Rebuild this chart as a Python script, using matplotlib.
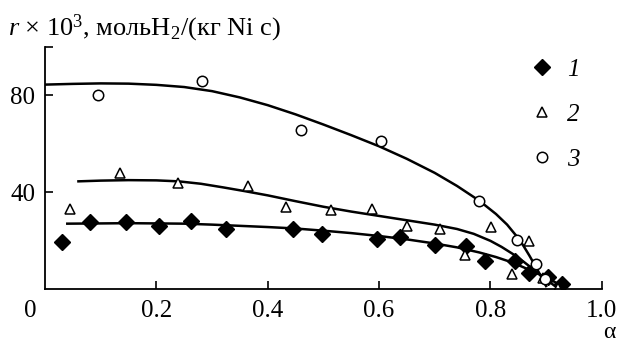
import matplotlib.pyplot as plt

plt.rcParams['font.family'] = ['Liberation Serif', 'DejaVu Serif']
plt.rcParams['mathtext.fontset'] = 'custom'
plt.rcParams['mathtext.rm'] = 'Liberation Serif'
plt.rcParams['mathtext.it'] = 'Liberation Serif:italic'

# measured points
x1 = [0.03, 0.08, 0.145, 0.205, 0.262, 0.325, 0.445, 0.498, 0.596, 0.638,
      0.70, 0.757, 0.791, 0.845, 0.87, 0.904, 0.929]
y1 = [19.4, 27.6, 27.6, 26.0, 28.0, 24.7, 24.7, 22.7, 20.6, 21.4,
      18.0, 17.7, 11.5, 11.5, 6.6, 5.0, 2.0]
x2 = [0.045, 0.134, 0.238, 0.364, 0.432, 0.513, 0.587, 0.651, 0.709, 0.754,
      0.801, 0.839, 0.87, 0.895, 0.921]
y2 = [33.0, 48.0, 43.7, 42.5, 33.8, 32.6, 33.0, 26.0, 25.0, 14.0,
      25.6, 6.0, 20.0, 4.6, 0.5]
x3 = [0.095, 0.282, 0.46, 0.604, 0.78, 0.848, 0.882, 0.898]
y3 = [80.0, 86.0, 65.6, 61.0, 36.3, 20.2, 10.3, 4.0]

# fitted curves
cx1 = [0.04, 0.10, 0.15, 0.20, 0.25, 0.30, 0.35, 0.40, 0.45, 0.50, 0.55, 0.60,
       0.65, 0.70, 0.74, 0.78, 0.81, 0.84, 0.87, 0.89, 0.91, 0.93]
cy1 = [27.0, 27.1, 27.2, 27.1, 27.0, 26.6, 26.1, 25.6, 25.0, 24.1, 23.1, 21.9,
       20.5, 18.8, 17.2, 15.1, 13.2, 10.9, 7.9, 5.8, 3.6, 1.0]
cx2 = [0.06, 0.10, 0.15, 0.20, 0.24, 0.28, 0.32, 0.36, 0.40, 0.45, 0.50, 0.55,
       0.60, 0.65, 0.70, 0.74, 0.77, 0.80, 0.82, 0.84, 0.86, 0.88, 0.90, 0.92]
cy2 = [44.5, 44.8, 45.0, 44.9, 44.5, 43.5, 42.0, 40.4, 38.7, 36.3, 34.0, 32.0,
       30.2, 28.4, 26.6, 24.8, 22.8, 19.9, 17.4, 14.5, 11.2, 7.6, 4.0, 0.5]
cx3 = [0.0, 0.05, 0.10, 0.15, 0.20, 0.25, 0.30, 0.35, 0.40, 0.45, 0.50, 0.55,
       0.60, 0.65, 0.70, 0.74, 0.78, 0.81, 0.83, 0.85, 0.86, 0.87, 0.88, 0.89, 0.90]
cy3 = [84.5, 84.8, 85.0, 84.9, 84.4, 83.5, 81.8, 79.2, 76.0, 72.2, 68.0, 63.6,
       59.0, 53.8, 48.0, 42.6, 36.5, 31.0, 26.6, 21.0, 17.6, 13.8, 9.8, 5.6, 1.2]

xticks = [0.2, 0.4, 0.6, 0.8, 1.0]
yticks = [40, 80, 100]
ytick_labels = ['40', '80', '']

fig = plt.figure(figsize=(6.21, 3.44), dpi=100)
ax = fig.add_axes([0.0725, 0.16, 0.8965, 0.703])

ax.plot(cx1, cy1, color='black', lw=1.8)
ax.plot(cx2, cy2, color='black', lw=1.8)
ax.plot(cx3, cy3, color='black', lw=1.8)

ax.plot(x1, y1, 'D', color='black', ms=8, label='1')
ax.plot(x2, y2, '^', mfc='white', mec='black', mew=1.1, ms=7.5, label='2')
ax.plot(x3, y3, 'o', mfc='white', mec='black', mew=1.1, ms=7.5, label='3')

ax.set_xlim(0, 1.0)
ax.set_ylim(0, 100)
ax.set_xticks(xticks)
ax.set_xticklabels(['0.2', '0.4', '0.6', '0.8', '1.0'])
ax.set_yticks(yticks)
ax.set_yticklabels(ytick_labels)
ax.tick_params(direction='in', length=6, width=1.2, labelsize=18)
ax.tick_params(axis='x', pad=8)
ax.tick_params(axis='y', pad=7)
for s in ['top', 'right']:
    ax.spines[s].set_visible(False)
for s in ['left', 'bottom']:
    ax.spines[s].set_linewidth(1.3)

fig.text(30 / 621, 1 - 311 / 344, '0', fontsize=18, ha='center', va='center')
fig.text(609 / 621, 1 - 333 / 344, 'α', fontsize=17, ha='center', va='center')
fig.text(8 / 621, 1 - 28 / 344, r'$r$ $\times$ 10$^3$, мольH$_2$/(кг Ni с)',
         fontsize=19, ha='left', va='center')

leg = ax.legend(loc='upper left', bbox_to_anchor=(0.83, 1.045), frameon=False,
                handletextpad=0.5, labelspacing=0.9, prop={'style': 'italic', 'size': 18},
                handlelength=1.0)

fig.savefig('out.png', dpi=100)
